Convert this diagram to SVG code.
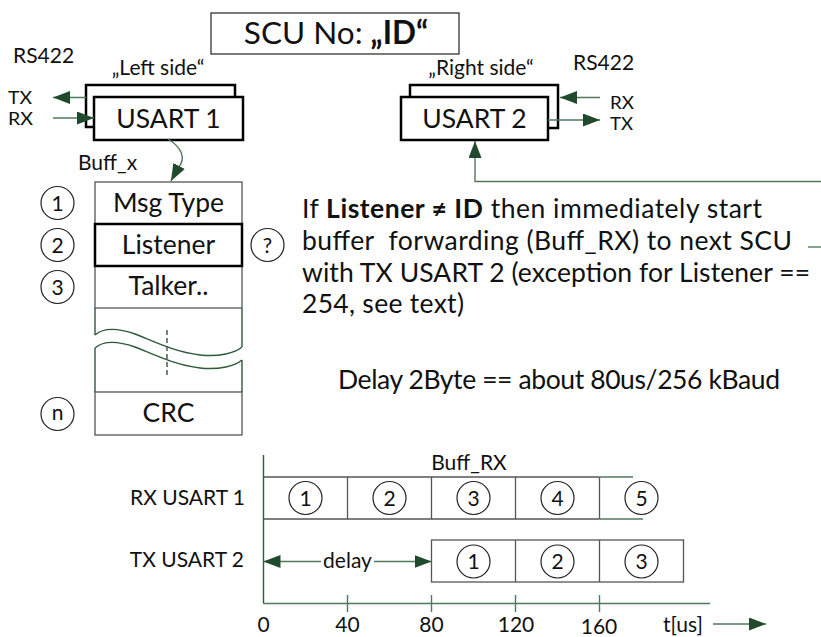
<svg xmlns="http://www.w3.org/2000/svg" width="821" height="637" viewBox="0 0 821 637">
<defs>
<style>
text{font-family:Lato,"Liberation Sans",sans-serif;fill:#111}
.s{font-size:21px}
.x{font-size:17.5px}
.b{font-size:26.5px}
.c{text-anchor:middle}
.e{text-anchor:end}
.bold{font-weight:bold}
.usart{fill:#fff;stroke:#000;stroke-width:2.5}
.cell{fill:#fff;stroke:#555;stroke-width:1.3}
.circ{fill:#fff;stroke:#222;stroke-width:1.2}
.con{fill:none;stroke:#4f7a5b;stroke-width:1.4}
.dk{fill:none;stroke:#2f5a3a;stroke-width:1.4}
.gl{fill:none;stroke:#555;stroke-width:1.3}
</style>
<marker id="ah" viewBox="0 0 17 13" refX="17" refY="6.5" markerWidth="17" markerHeight="13" markerUnits="userSpaceOnUse" orient="auto"><path d="M0,0 L17,6.5 L0,13 z" fill="#1f4a2b"/></marker>
</defs>
<rect width="821" height="637" fill="#fff"/>

<g id="title">
<rect x="211" y="13" width="248" height="41" fill="#fff" stroke="#333" stroke-width="1.3"/>
<text x="336" y="44" class="c" style="font-size:31.5px">SCU No: <tspan class="bold">„ID“</tspan></text>
</g>

<g id="usart1">
<text x="13" y="63" class="s">RS422</text>
<text x="158" y="75" class="s c">„Left side“</text>
<text x="8" y="103.5" class="x" textLength="24" lengthAdjust="spacingAndGlyphs">TX</text>
<text x="8" y="124.5" class="x" textLength="25" lengthAdjust="spacingAndGlyphs">RX</text>
<rect x="86" y="85" width="149" height="42" class="usart"/>
<rect x="94" y="97" width="149" height="43" class="usart"/>
<text x="168.5" y="128" class="b c">USART 1</text>
</g>

<g id="usart2">
<text x="481" y="75" class="s c">„Right side“</text>
<text x="573" y="70" class="s">RS422</text>
<text x="610" y="108.5" class="x" textLength="24" lengthAdjust="spacingAndGlyphs">RX</text>
<text x="610" y="129.5" class="x" textLength="23" lengthAdjust="spacingAndGlyphs">TX</text>
<rect x="410" y="85" width="148" height="43" class="usart"/>
<rect x="401" y="97" width="147" height="43" class="usart"/>
<text x="474.5" y="128" class="b c">USART 2</text>
</g>

<g id="buffer">
<text x="78" y="170" class="s">Buff_x</text>
<rect x="95" y="182" width="147" height="42" class="cell"/>
<text x="168.5" y="212" class="b c">Msg Type</text>
<rect x="95" y="266" width="147" height="42" class="cell"/>
<text x="168.5" y="295" class="b c">Talker..</text>
<rect x="95" y="392" width="147" height="43" class="cell"/>
<text x="168.5" y="421.5" class="b c">CRC</text>
<rect x="95" y="224" width="147" height="42" fill="#fff" stroke="#000" stroke-width="2.5"/>
<text x="168.5" y="253.5" class="b c">Listener</text>
<path d="M95,308 V335 M95,348 V392 M242,308 V347 M242,360 V392" class="dk"/>
<path d="M95,335 C103,328 115,327 135,334 C155,342 175,352 200,355 C220,357 235,353 242,347" class="dk"/>
<path d="M95,348 C103,341 115,340 135,347 C155,355 175,365 200,368 C220,370 235,366 242,360" class="dk"/>
<path d="M167,330 V377" class="dk" stroke-dasharray="5,3"/>
</g>

<g id="markers">
<circle cx="57.5" cy="203" r="16.5" class="circ"/><text x="57.5" y="210.5" class="s c">1</text>
<circle cx="57.5" cy="245" r="16.5" class="circ"/><text x="57.5" y="252.5" class="s c">2</text>
<circle cx="57.5" cy="287" r="16.5" class="circ"/><text x="57.5" y="294.5" class="s c">3</text>
<circle cx="57.5" cy="414" r="16.5" class="circ"/><text x="57.5" y="420" class="s c">n</text>
<circle cx="267.5" cy="245" r="16.5" class="circ"/><text x="267.5" y="252.5" class="s c">?</text>
</g>

<g id="note">
<text x="302" y="218" class="b" textLength="460">If <tspan class="bold">Listener ≠ ID</tspan> then immediately start</text>
<text x="302" y="250" class="b" style="white-space:pre" textLength="490">buffer  forwarding (Buff_RX) to next SCU</text>
<text x="302" y="282" class="b" textLength="508">with TX USART 2 (exception for Listener ==</text>
<text x="302" y="313" class="b" textLength="162">254, see text)</text>
<text x="338" y="389" class="b" textLength="442">Delay 2Byte == about 80us/256 kBaud</text>
</g>

<g id="timeline">
<text x="245" y="505" class="s e">RX USART 1</text>
<text x="244" y="567" class="s e">TX USART 2</text>
<text x="469" y="470" class="s c">Buff_RX</text>
<path d="M263.5,477 H599.5 M263.5,519 H599.5 M347.5,477 V519 M431.5,477 V519 M515.5,477 V519 M599.5,477 V519" class="gl"/>
<path d="M599.5,477 H633 M599.5,519 H643" class="con"/>
<rect x="431.5" y="540" width="252" height="42" class="cell"/>
<path d="M515.5,540 V582 M599.5,540 V582" class="gl"/>
<circle cx="305.5" cy="498" r="16.5" class="circ"/><text x="305.5" y="505.5" class="s c">1</text>
<circle cx="389.5" cy="498" r="16.5" class="circ"/><text x="389.5" y="505.5" class="s c">2</text>
<circle cx="473.5" cy="498" r="16.5" class="circ"/><text x="473.5" y="505.5" class="s c">3</text>
<circle cx="557.5" cy="498" r="16.5" class="circ"/><text x="557.5" y="505.5" class="s c">4</text>
<circle cx="641.5" cy="498" r="16.5" class="circ"/><text x="641.5" y="505.5" class="s c">5</text>
<circle cx="473.5" cy="561.5" r="16.5" class="circ"/><text x="473.5" y="569" class="s c">1</text>
<circle cx="557.5" cy="561.5" r="16.5" class="circ"/><text x="557.5" y="569" class="s c">2</text>
<circle cx="641.5" cy="561.5" r="16.5" class="circ"/><text x="641.5" y="569" class="s c">3</text>
<text x="347.5" y="568" class="s c">delay</text>
<path d="M263.5,455 V603.5" class="dk"/>
<path d="M263.5,603.5 H710 M347.5,595 V612 M431.5,595 V612 M515.5,595 V612 M599.5,595 V612" class="con"/>
<text x="263.5" y="632" class="s c">0</text>
<text x="347.5" y="632" class="s c">40</text>
<text x="431.5" y="632" class="s c">80</text>
<text x="516" y="632" class="s c">120</text>
<text x="599" y="633.5" class="s c">160</text>
<text x="663" y="632" class="s">t[us]</text>
</g>

<g id="connectors">
<path d="M86,97.5 H53" class="con" marker-end="url(#ah)"/>
<path d="M53,118 H94" class="con" marker-end="url(#ah)"/>
<path d="M600,97.5 H560" class="con" marker-end="url(#ah)"/>
<path d="M548,120 H600" class="con" marker-end="url(#ah)"/>
<path d="M821,181.5 H475 V141" class="con" marker-end="url(#ah)"/>
<path d="M808,247 H821" class="con"/>
<path d="M168,139 C181,147 187,158 178,168 L171,181" class="con" marker-end="url(#ah)"/>
<path d="M321,561.5 H263.5" class="con" marker-end="url(#ah)"/>
<path d="M374,561.5 H431.5" class="con" marker-end="url(#ah)"/>
<path d="M713,624 H766" class="con" marker-end="url(#ah)"/>
</g>
</svg>
